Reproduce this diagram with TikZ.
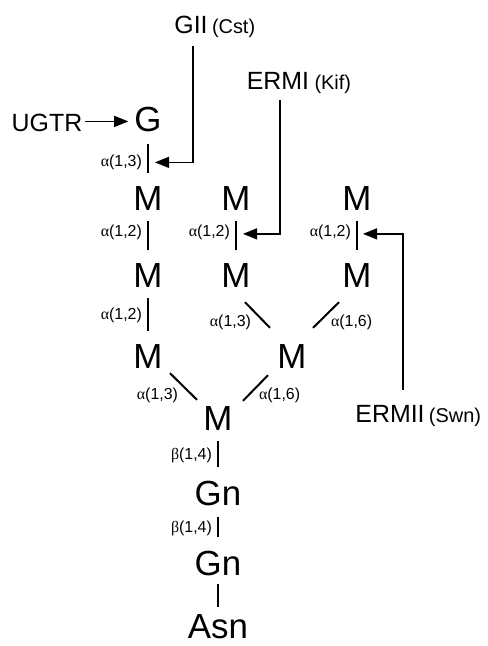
\documentclass[tikz,border=0pt]{standalone}
\usepackage{fontspec}
\setmainfont{Liberation Sans}
\newfontfamily\greekfont{Liberation Serif}
\usetikzlibrary{arrows.meta}
\newcommand{\galpha}{{\greekfont α}}
\newcommand{\gbeta}{{\greekfont β}}

\begin{document}
\begin{tikzpicture}[x=1bp,y=-1bp,
  residue/.style={inner sep=0pt,anchor=base,font=\fontsize{35}{35}\selectfont},
  enzyme/.style={inner sep=0pt,anchor=base,font=\fontsize{25}{25}\selectfont},
  synonym/.style={inner sep=0pt,anchor=base west,font=\fontsize{20}{20}\selectfont},
  bond/.style={line width=2.2bp,shorten <=11bp,shorten >=13bp},
  diag/.style={line width=2bp},
  linkage/.style={inner sep=0pt,font=\fontsize{16}{16}\selectfont},
  enzarrow/.style={line width=1.3bp,-{Triangle[length=14bp,width=11bp]}},
]
\useasboundingbox (0,0) rectangle (488,646);

% sugar residues
\node[residue] (G)     at (148,132) {G};
\node[residue] (Ma1)   at (148,210) {M};
\node[residue] (Mb1)   at (236,210) {M};
\node[residue] (Mc1)   at (357,210) {M};
\node[residue] (Ma2)   at (148,287) {M};
\node[residue] (Mb2)   at (236,287) {M};
\node[residue] (Mc2)   at (357,287) {M};
\node[residue] (Ma3)   at (148,368) {M};
\node[residue] (Md)    at (292,368) {M};
\node[residue] (Mcore) at (218,430) {M};
\node[residue] (Gn1)   at (218,505) {Gn};
\node[residue] (Gn2)   at (218,575) {Gn};
\node[residue] (Asn)   at (218,638) {Asn};

% enzymes
\node[enzyme] (UGTR)  at (47,132)  {UGTR};
\node[enzyme] (GII)   at (191,34)  {GII};
\node[synonym] (Cst)  at ([xshift=4bp]GII.base east) {(Cst)};
\node[enzyme] (ERMI)  at (278,90)  {ERMI};
\node[synonym] (Kif)  at ([xshift=5bp]ERMI.base east) {(Kif)};
\node[enzyme] (ERMII) at (390,422) {ERMII};
\node[synonym] (Swn)  at ([xshift=4bp]ERMII.base east) {(Swn)};

% glycosidic bonds (vertical)
\draw[bond] (G) -- node[linkage,pos=.56,left=5bp]{\galpha(1,3)} coordinate[pos=.56] (kG) (Ma1);
\draw[bond] (Ma1) -- node[linkage,pos=.42,left=5bp]{\galpha(1,2)} (Ma2);
\draw[bond] (Ma2) -- node[linkage,pos=.5,left=5bp]{\galpha(1,2)} (Ma3);
\draw[bond] (Mb1) -- node[linkage,pos=.42,left=5bp]{\galpha(1,2)} coordinate[pos=.45] (kB) (Mb2);
\draw[bond] (Mc1) -- node[linkage,pos=.42,left=5bp]{\galpha(1,2)} coordinate[pos=.45] (kC) (Mc2);
\draw[bond] (Mcore) -- node[linkage,pos=.5,left=5bp]{\gbeta(1,4)} (Gn1);
\draw[bond] (Gn1) -- node[linkage,pos=.5,left=5bp]{\gbeta(1,4)} (Gn2);
\draw[bond,shorten <=8bp,shorten >=7bp] (Gn2) -- (Asn);

% branch bonds (diagonal)
\draw[diag] ([shift={(9,15)}]Mb2.south) -- ([shift={(-22,-16)}]Md.north)
  node[linkage,pos=1,anchor=east,xshift=-18bp,yshift=5bp]{\galpha(1,3)};
\draw[diag] ([shift={(-18,15)}]Mc2.south) -- ([shift={(21,-16)}]Md.north)
  node[linkage,pos=1,anchor=west,xshift=17bp,yshift=5bp]{\galpha(1,6)};
\draw[diag] ([shift={(22,5)}]Ma3.south) -- ([shift={(-21,-6)}]Mcore.north)
  node[linkage,pos=1,anchor=east,xshift=-18bp,yshift=4bp]{\galpha(1,3)};
\draw[diag] ([shift={(-24,7)}]Md.south) -- ([shift={(25,-5)}]Mcore.north)
  node[linkage,pos=1,anchor=west,xshift=15bp,yshift=5bp]{\galpha(1,6)};

% enzyme actions
\draw[enzarrow,shorten <=3bp,shorten >=6bp] ([yshift=2bp]UGTR.east) -- ([yshift=2bp]UGTR.east -| G.west);
\draw[enzarrow] ([xshift=2bp,yshift=-12bp]GII.base) |- ([xshift=7bp]kG);
\draw[enzarrow] ([xshift=2bp,yshift=-10bp]ERMI.base) |- ([xshift=7bp]kB);
\draw[enzarrow] ([xshift=13bp,yshift=32bp]ERMII.base) |- ([xshift=6bp]kC);
\end{tikzpicture}
\end{document}
